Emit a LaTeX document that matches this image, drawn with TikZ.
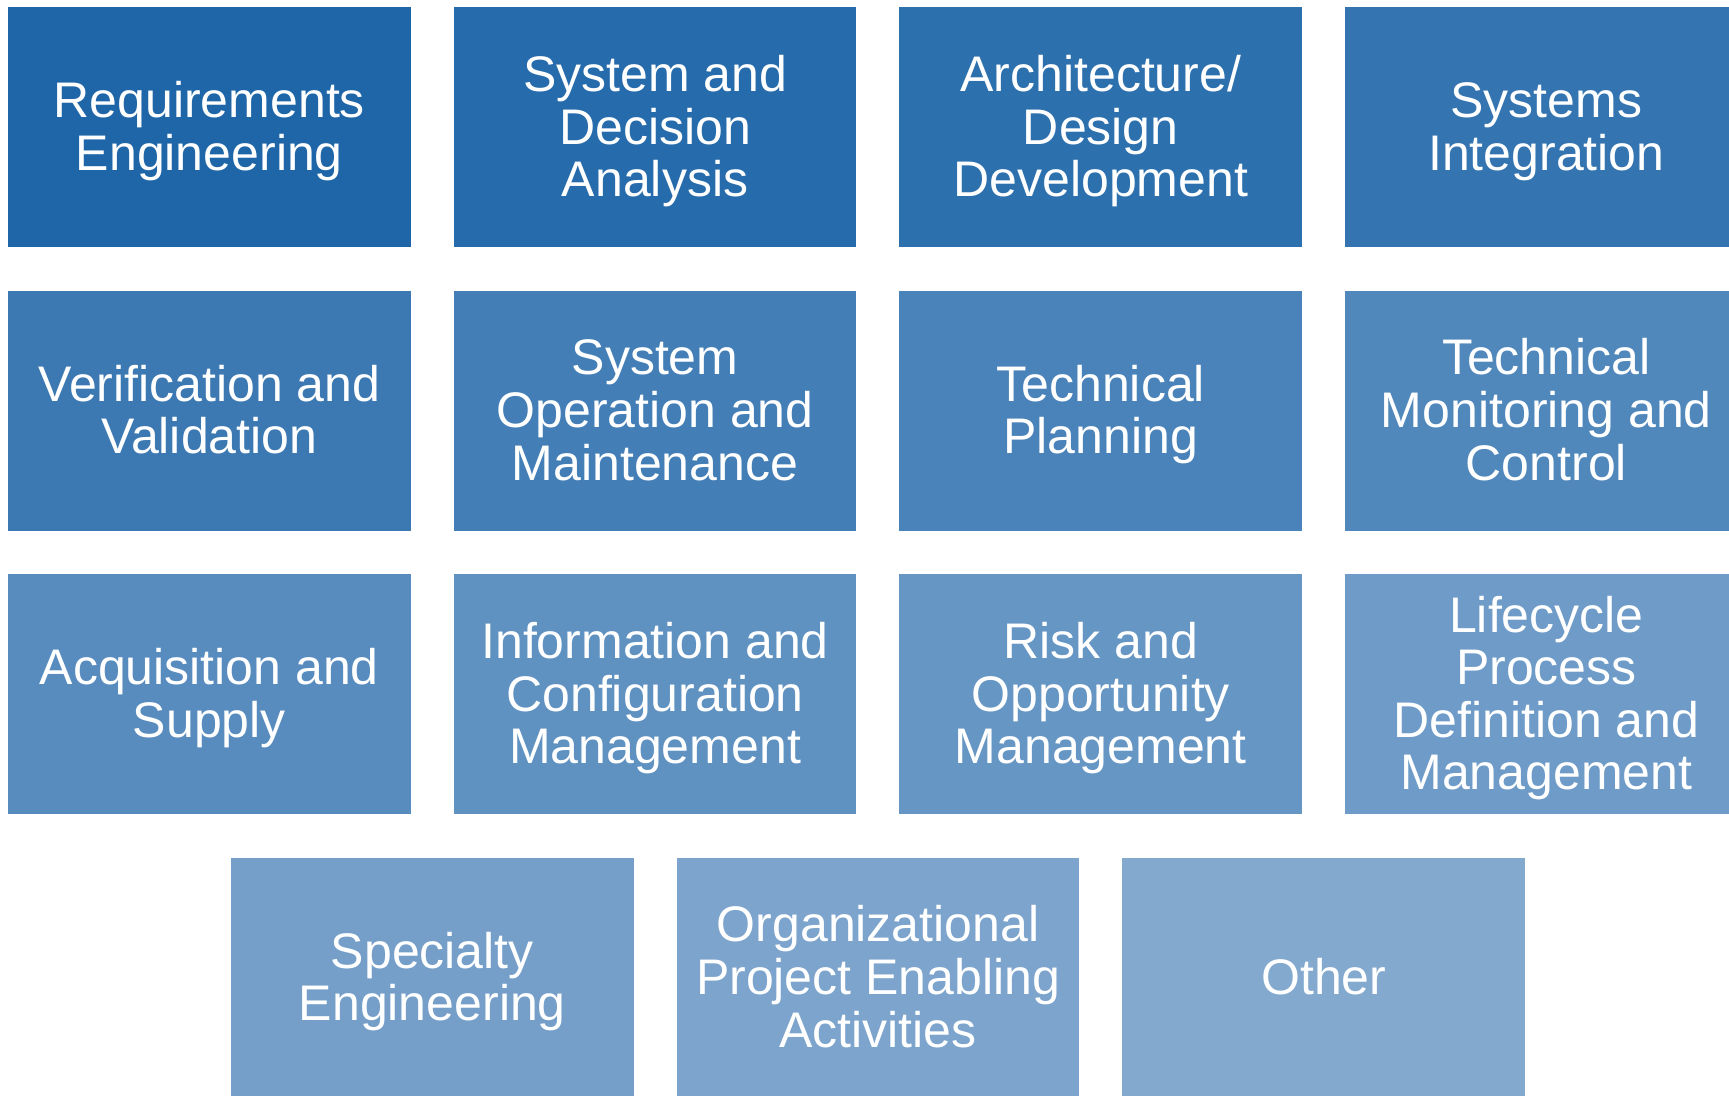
\documentclass[tikz,border=0pt]{standalone}
\usepackage{fontspec}
\setmainfont{Liberation Sans}
\definecolor{c0}{RGB}{31,102,168}
\definecolor{c1}{RGB}{38,107,171}
\definecolor{c2}{RGB}{45,112,174}
\definecolor{c3}{RGB}{52,116,176}
\definecolor{c4}{RGB}{60,121,179}
\definecolor{c5}{RGB}{67,126,182}
\definecolor{c6}{RGB}{74,131,185}
\definecolor{c7}{RGB}{81,136,188}
\definecolor{c8}{RGB}{88,140,190}
\definecolor{c9}{RGB}{95,145,193}
\definecolor{c10}{RGB}{102,150,196}
\definecolor{c11}{RGB}{110,155,199}
\definecolor{c12}{RGB}{117,159,201}
\definecolor{c13}{RGB}{124,164,204}
\definecolor{c14}{RGB}{131,169,207}
\newcommand{\bs}{\rule{0pt}{44pt}}
\newcommand{\es}{\rule[-10.6pt]{0pt}{10.6pt}}
\begin{document}
\begin{tikzpicture}[x=1pt,y=-1pt,
  box/.style={anchor=north west, minimum width=402.7pt, minimum height=240pt,
    inner sep=0pt, outer sep=0pt, text=white, align=center,
    font=\fontsize{50}{52.6}\selectfont}]
\useasboundingbox (0,0) rectangle (1729,1095);
\clip (0,0) rectangle (1729,1095);
% row 1
\node[box, fill=c0] (re) at (8,7.3) {\bs Requirements\\Engineering\es};
\node[box, fill=c1] (sda) at (453.7,7.3) {\bs System and\\Decision\\Analysis\es};
\node[box, fill=c2] (add) at (899.4,7.3) {\bs Architecture/\\Design\\Development\es};
\node[box, fill=c3] (si) at (1345,7.3) {\bs Systems\\Integration\es};
% row 2
\node[box, fill=c4] (vv) at (8,290.8) {\bs Verification and\\Validation\es};
\node[box, fill=c5] (som) at (453.7,290.8) {\bs System\\Operation and\\Maintenance\es};
\node[box, fill=c6] (tp) at (899.4,290.8) {\bs Technical\\Planning\es};
\node[box, fill=c7] (tmc) at (1345,290.8) {\bs Technical\\Monitoring and\\Control\es};
% row 3
\node[box, fill=c8] (as) at (8,574.3) {\bs Acquisition and\\Supply\es};
\node[box, fill=c9] (icm) at (453.7,574.3) {\bs Information and\\Configuration\\Management\es};
\node[box, fill=c10] (rom) at (899.4,574.3) {\bs Risk and\\Opportunity\\Management\es};
\node[box, fill=c11] (lpd) at (1345,574.3) {\bs Lifecycle\\Process\\Definition and\\Management\es};
% row 4
\node[box, fill=c12] (se) at (231,857.8) {\bs Specialty\\Engineering\es};
\node[box, fill=c13] (ope) at (676.7,857.8) {\bs Organizational\\Project Enabling\\Activities\es};
\node[box, fill=c14] (oth) at (1122.4,857.8) {\bs Other\es};
\end{tikzpicture}
\end{document}
